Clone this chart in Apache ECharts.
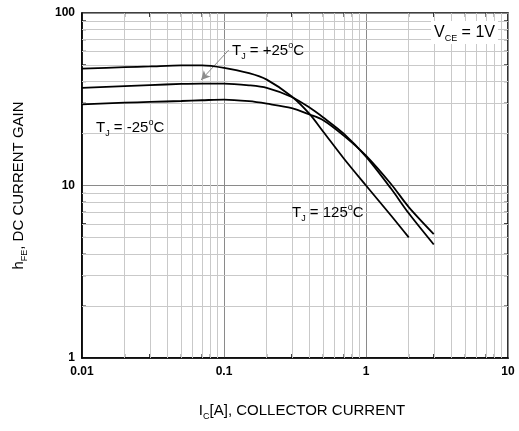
<!DOCTYPE html>
<html>
<head>
<meta charset="utf-8">
<script src="https://cdn.jsdelivr.net/npm/echarts@6/dist/echarts.min.js"></script>
<style>
html,body{margin:0;padding:0;background:#fff;}
#chart{width:519px;height:431px;}
</style>
</head>
<body>
<div id="chart"></div>
<script>
// Collector current (A)
var currentA = [0.01, 0.02, 0.03, 0.05, 0.07, 0.1, 0.15, 0.2, 0.3, 0.4, 0.5, 0.7, 1, 1.5, 2, 3];
// DC current gain hFE per junction temperature
var gain125 = [47.6, 48.5, 49.0, 49.7, 49.7, 48.1, 44.8, 41.1, 32.8, 26.0, 20.5, 14.3, 10.0, 6.7, 5.0];
var gain25  = [36.8, 37.7, 38.2, 38.8, 39.0, 39.0, 38.1, 36.8, 32.6, 28.3, 24.8, 19.9, 14.7, 9.6, 6.9, 4.55];
var gainM25 = [29.5, 30.2, 30.5, 30.9, 31.2, 31.5, 30.8, 29.8, 28.1, 25.8, 23.9, 19.4, 14.9, 10.2, 7.5, 5.23];
// Axis ranges and tick labels
var xRange = [0.01, 10];
var yRange = [1, 100];
var xTickLabels = ['0.01', '0.1', '1', '10'];
var yTickLabels = ['1', '10', '100'];
// Minor grid positions
var xMinorGrid = [0.02,0.03,0.04,0.05,0.06,0.07,0.08,0.09,0.2,0.3,0.4,0.5,0.6,0.7,0.8,0.9,2,3,4,5,6,7,8,9];
var yMinorGrid = [2,3,4,5,6,7,8,9,20,30,40,50,60,70,80,90];
// Arrow annotation for +25C label (data coords)
var arrowFrom = [0.108, 61];
var arrowTo = [0.069, 40.9];

function pairs(xs, ys) {
  var out = [];
  for (var i = 0; i < ys.length; i++) out.push([xs[i], ys[i]]);
  return out;
}

var FONT = 'Liberation Sans, Arial, Helvetica, sans-serif';
var chart = echarts.init(document.getElementById('chart'), null, {renderer: 'canvas'});

var curveStyle = {color: '#000', width: 1.8};
function curve(name, ys) {
  return {
    name: name, type: 'line', data: pairs(currentA, ys), smooth: 0.3,
    symbol: 'none', lineStyle: curveStyle, itemStyle: {color: '#000'},
    z: 5, silent: true, animation: false
  };
}

var minorLines = [];
xMinorGrid.forEach(function (v) { minorLines.push({xAxis: v}); });
yMinorGrid.forEach(function (v) { minorLines.push({yAxis: v}); });

function richLabel(size) {
  var small = Math.round(size * 0.58);
  return {
    n: {fontSize: size, fontFamily: FONT, color: '#000', lineHeight: size + 5, verticalAlign: 'middle'},
    s: {fontSize: small, fontFamily: FONT, color: '#000', lineHeight: small + 2, verticalAlign: 'bottom'},
    o: {fontSize: small, fontFamily: FONT, color: '#000', lineHeight: small + 2, verticalAlign: 'top'}
  };
}

var TICK = 4;
function tickLine(x1, y1, x2, y2) {
  return {type: 'line', shape: {x1: x1, y1: y1, x2: x2, y2: y2}, style: {stroke: '#000', lineWidth: 1}};
}

var option = {
  backgroundColor: '#fff',
  animation: false,
  grid: {left: 82, right: 11, top: 13, bottom: 73, show: true, borderColor: '#000', borderWidth: 1.6, containLabel: false},
  xAxis: {
    type: 'log', logBase: 10, min: xRange[0], max: xRange[1],
    axisLine: {show: true, lineStyle: {color: '#000', width: 1.6}},
    axisTick: {show: false},
    axisLabel: {
      color: '#000', fontWeight: 'bold', fontSize: 12, fontFamily: FONT, margin: 8,
      formatter: function (v, i) { return xTickLabels[i]; }
    },
    splitLine: {show: true, lineStyle: {color: '#8a8a8a', width: 1}},
    name: '{n|I}{s|C}{n|[A], COLLECTOR CURRENT}',
    nameLocation: 'middle', nameGap: 43,
    nameTextStyle: {rich: richLabel(15), padding: [0, 0, 0, 14]}
  },
  yAxis: {
    type: 'log', logBase: 10, min: yRange[0], max: yRange[1],
    axisLine: {show: true, lineStyle: {color: '#000', width: 1.6}},
    axisTick: {show: false},
    axisLabel: {
      color: '#000', fontWeight: 'bold', fontSize: 12, fontFamily: FONT, margin: 7,
      formatter: function (v, i) { return yTickLabels[i]; }
    },
    splitLine: {show: true, lineStyle: {color: '#8a8a8a', width: 1}},
    name: '{n|h}{s|FE}{n|, DC CURRENT GAIN}',
    nameLocation: 'middle', nameGap: 53, nameRotate: 90,
    nameTextStyle: {rich: richLabel(15)}
  },
  series: [
    {
      name: 'grid', type: 'line', data: [], silent: true, z: 1,
      markLine: {
        silent: true, symbol: ['none', 'none'], animation: false,
        label: {show: false},
        lineStyle: {color: '#c9c9c9', width: 1, type: 'solid'},
        emphasis: {disabled: true},
        data: minorLines
      }
    },
    {
      name: 'yMinorTicks', type: 'custom', silent: true, z: 4, animation: false,
      data: yMinorGrid.map(function (v) { return [xRange[0], v]; }),
      renderItem: function (params, api) {
        var v = api.value(1);
        var a = api.coord([xRange[0], v]);
        var b = api.coord([xRange[1], v]);
        return {type: 'group', children: [
          tickLine(a[0], a[1], a[0] + TICK, a[1]),
          tickLine(b[0] - TICK, b[1], b[0], b[1])
        ]};
      }
    },
    {
      name: 'xMinorTicks', type: 'custom', silent: true, z: 4, animation: false,
      data: xMinorGrid.map(function (v) { return [v, yRange[0]]; }),
      renderItem: function (params, api) {
        var v = api.value(0);
        var a = api.coord([v, yRange[0]]);
        var b = api.coord([v, yRange[1]]);
        return {type: 'group', children: [
          tickLine(a[0], a[1], a[0], a[1] - TICK),
          tickLine(b[0], b[1], b[0], b[1] + TICK)
        ]};
      }
    },
    curve('TJ = 125°C', gain125),
    curve('TJ = +25°C', gain25),
    curve('TJ = -25°C', gainM25),
    {
      name: 'arrow', type: 'line', data: [], silent: true, z: 6,
      markLine: {
        silent: true, symbol: ['none', 'arrow'], symbolSize: [7, 9], animation: false,
        label: {show: false},
        lineStyle: {color: '#8c8c8c', width: 1, type: 'solid'},
        emphasis: {disabled: true},
        data: [[{coord: arrowFrom}, {coord: arrowTo}]]
      }
    }
  ],
  graphic: [
    {type: 'text', left: 232, top: 41, z: 10, style: {text: '{n|T}{s|J}{n| = +25}{o|o}{n|C}', rich: richLabel(15)}},
    {type: 'text', left: 96, top: 118, z: 10, style: {text: '{n|T}{s|J}{n| = -25}{o|o}{n|C}', rich: richLabel(15)}},
    {type: 'text', left: 292, top: 203, z: 10, style: {text: '{n|T}{s|J}{n| = 125}{o|o}{n|C}', rich: richLabel(15)}},
    {type: 'text', left: 431, top: 21, z: 10, style: {text: '{n|V}{s|CE}{n| = 1V}', rich: richLabel(16), backgroundColor: '#fff', padding: [1, 3, 1, 3]}}
  ]
};
chart.setOption(option);
</script>
</body>
</html>
